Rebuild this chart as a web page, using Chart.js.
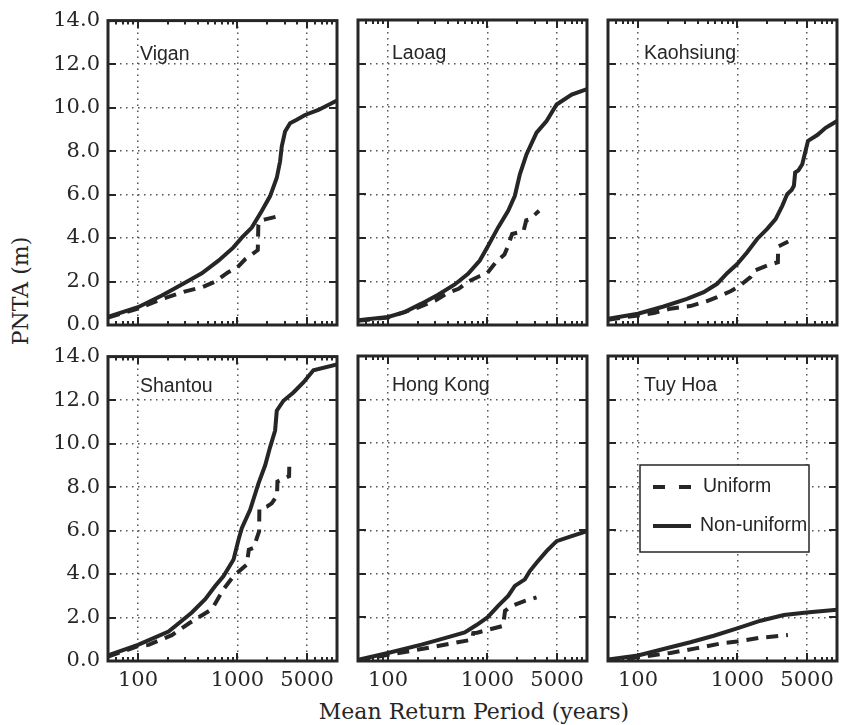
<!DOCTYPE html>
<html>
<head>
<meta charset="utf-8">
<script src="https://cdn.jsdelivr.net/npm/chart.js@4.4.0/dist/chart.umd.min.js"></script>
<style>
    body { margin: 0; background: #fff; }
    #fig { position: relative; width: 841px; height: 725px; overflow: hidden; color: #262626; font-family: "DejaVu Serif", serif; }
    .panel { position: absolute; }
    #ylab { position: absolute; left: 21px; top: 291px; transform: translate(-50%, -50%) rotate(-90deg); font-size: 22px; line-height: 22px; white-space: nowrap; }
    #xlab { position: absolute; left: 474px; top: 701px; transform: translateX(-50%); font-size: 22px; line-height: 22px; white-space: nowrap; }
</style>
</head>
<body>
<div id="fig">
    <div id="ylab">PNTA (m)</div>
    <div id="xlab">Mean Return Period (years)</div>
</div>
<script>
// Return period (years) and PNTA (m)
const viganUniT = [50, 100, 170, 300, 450, 600, 800, 1000, 1200, 1450, 1600, 1620, 1700, 1900, 2450];
const viganUniH = [0.34, 0.75, 1.18, 1.55, 1.75, 2.0, 2.42, 2.65, 3.03, 3.3, 3.45, 4.6, 4.8, 4.86, 4.98];
const viganNonT = [50, 100, 174, 276, 438, 644, 911, 1105, 1392, 1753, 2128, 2483, 2681, 2787, 3008, 3375, 3937, 4773, 6500, 10000];
const viganNonH = [0.38, 0.82, 1.36, 1.86, 2.38, 2.96, 3.57, 4.02, 4.48, 5.24, 5.93, 6.77, 7.53, 8.22, 8.9, 9.28, 9.44, 9.66, 9.89, 10.32];

const laoagUniT = [50, 100, 200, 300, 393, 513, 627, 830, 1000, 1240, 1480, 1600, 1770, 2300, 2450, 2650, 3300];
const laoagUniH = [0.2, 0.34, 0.8, 1.13, 1.46, 1.66, 1.97, 2.24, 2.4, 2.93, 3.23, 3.6, 4.18, 4.3, 4.8, 4.85, 5.24];
const laoagNonT = [50, 100, 147, 217, 319, 469, 638, 837, 1016, 1280, 1614, 1884, 2115, 2470, 3112, 3924, 4950, 7016, 10000];
const laoagNonH = [0.22, 0.37, 0.59, 0.98, 1.39, 1.86, 2.35, 2.96, 3.64, 4.48, 5.24, 5.93, 6.92, 7.84, 8.83, 9.36, 10.12, 10.58, 10.83];

const kaohUniT = [50, 100, 144, 212, 336, 495, 624, 851, 1032, 1351, 1482, 1989, 2547, 2560, 3236];
const kaohUniH = [0.24, 0.44, 0.55, 0.75, 0.87, 1.1, 1.28, 1.55, 1.77, 2.2, 2.5, 2.73, 2.88, 3.6, 3.83];
const kaohNonT = [50, 100, 181, 311, 458, 624, 787, 993, 1251, 1577, 1989, 2415, 2818, 3162, 3500, 3689, 3800, 4100, 4477, 5108, 6340, 7690, 10000];
const kaohNonH = [0.29, 0.52, 0.85, 1.2, 1.51, 1.89, 2.38, 2.8, 3.34, 3.95, 4.41, 4.86, 5.47, 6.01, 6.2, 6.39, 7.0, 7.1, 7.38, 8.45, 8.72, 9.05, 9.36];

const shantouUniT = [50, 100, 128, 219, 335, 552, 725, 913, 1241, 1300, 1449, 1649, 1660, 1968, 2208, 2495, 2520, 3300, 3320];
const shantouUniH = [0.2, 0.68, 0.74, 1.19, 1.77, 2.38, 3.3, 3.91, 4.44, 5.12, 5.2, 5.96, 7.0, 7.1, 7.25, 7.6, 8.25, 8.5, 9.1];
const shantouNonT = [50, 100, 203, 276, 348, 474, 597, 725, 913, 1024, 1105, 1340, 1626, 1898, 2128, 2388, 2483, 2897, 3648, 4592, 5792, 10000];
const shantouNonH = [0.26, 0.74, 1.35, 1.85, 2.23, 2.84, 3.45, 3.91, 4.67, 5.58, 6.11, 6.95, 8.17, 9.0, 9.84, 10.6, 11.51, 11.97, 12.35, 12.81, 13.37, 13.64];

const hkUniT = [50, 100, 217, 408, 701, 720, 787, 1438, 1500, 1745, 2376, 3112];
const hkUniH = [0.02, 0.28, 0.55, 0.78, 0.98, 1.28, 1.3, 1.61, 2.3, 2.53, 2.76, 2.92];
const hkNonT = [50, 100, 217, 372, 591, 775, 1000, 1280, 1614, 1884, 2376, 2666, 3112, 3924, 4950, 7016, 10000];
const hkNonH = [0.05, 0.37, 0.75, 1.05, 1.31, 1.65, 2.0, 2.53, 2.99, 3.45, 3.75, 4.13, 4.51, 5.04, 5.5, 5.73, 5.96];

const tuyUniT = [50, 100, 212, 393, 728, 993, 1706, 3211];
const tuyUniH = [0.04, 0.17, 0.37, 0.59, 0.83, 0.89, 1.07, 1.19];
const tuyNonT = [50, 100, 212, 336, 578, 993, 1706, 2927, 4950, 10000];
const tuyNonH = [0.07, 0.25, 0.63, 0.86, 1.16, 1.5, 1.85, 2.11, 2.23, 2.35];

const xMajor = [100, 1000, 5000];
const yTicks = [0, 2, 4, 6, 8, 10, 12, 14];

const panels = [
    { name: "Vigan", uniT: viganUniT, uniH: viganUniH, nonT: viganNonT, nonH: viganNonH },
    { name: "Laoag", uniT: laoagUniT, uniH: laoagUniH, nonT: laoagNonT, nonH: laoagNonH },
    { name: "Kaohsiung", uniT: kaohUniT, uniH: kaohUniH, nonT: kaohNonT, nonH: kaohNonH },
    { name: "Shantou", uniT: shantouUniT, uniH: shantouUniH, nonT: shantouNonT, nonH: shantouNonH },
    { name: "Hong Kong", uniT: hkUniT, uniH: hkUniH, nonT: hkNonT, nonH: hkNonH },
    { name: "Tuy Hoa", uniT: tuyUniT, uniH: tuyUniH, nonT: tuyNonT, nonH: tuyNonH }
];

const INK = "#262626";
const SANS = '"Liberation Sans", Arial, sans-serif';
const plotLeft = [108, 358, 608];
const plotTop = [20, 356];
const plotW = 229, plotH = 305;
const padL = 100, padT = 20, padR = 10, padB = 60;

// frame, inward ticks, station name and (last panel) legend
const framePlugin = {
    id: "frame",
    afterDraw(chart, args, opts) {
        const { ctx, chartArea: a, scales: { x, y } } = chart;
        ctx.save();
        ctx.setLineDash([]);
        ctx.lineDashOffset = 0;
        ctx.lineCap = "butt";
        ctx.strokeStyle = INK;
        ctx.lineWidth = 2;
        ctx.beginPath();
        for (let d = 10; d <= 1000; d *= 10) {
            for (let m = 1; m < 10; m++) {
                const v = m * d;
                if (v < 50 || v > 10000) continue;
                const px = Math.round(x.getPixelForValue(v));
                const len = xMajor.includes(v) ? 8 : 4;
                ctx.moveTo(px, a.bottom); ctx.lineTo(px, a.bottom - len);
                ctx.moveTo(px, a.top); ctx.lineTo(px, a.top + len);
            }
        }
        yTicks.forEach(v => {
            const py = Math.round(y.getPixelForValue(v));
            ctx.moveTo(a.left, py); ctx.lineTo(a.left + 8, py);
            ctx.moveTo(a.right, py); ctx.lineTo(a.right - 8, py);
        });
        ctx.stroke();

        ctx.lineWidth = 3;
        ctx.strokeRect(a.left, a.top, a.width, a.height);

        ctx.fillStyle = INK;
        ctx.font = "19.5px " + SANS;
        ctx.textBaseline = "alphabetic";
        ctx.fillText(opts.name, a.left + opts.titleDx, a.top + opts.titleDy);

        if (opts.legend) {
            const ds = chart.data.datasets;
            // white legend frame hides the grid behind it
            ctx.fillStyle = "#fff";
            ctx.fillRect(a.left + 32, a.top + 109, 169, 87);
            ctx.fillStyle = INK;
            ctx.lineWidth = 1.5;
            ctx.strokeRect(a.left + 32, a.top + 109, 169, 87);
            const rows = [{ d: ds[0], yOff: 131, tx: 95, dash: [12, 14] }, { d: ds[1], yOff: 170, tx: 92, dash: [] }];
            rows.forEach(r => {
                ctx.beginPath();
                ctx.lineWidth = 4;
                ctx.setLineDash(r.dash);
                ctx.lineDashOffset = 0;
                ctx.moveTo(a.left + 45, a.top + r.yOff);
                ctx.lineTo(a.left + 83, a.top + r.yOff);
                ctx.stroke();
                ctx.setLineDash([]);
                ctx.textBaseline = "middle";
                ctx.fillText(r.d.label, a.left + r.tx, a.top + r.yOff);
            });
        }
        ctx.restore();
    }
};

const fig = document.getElementById("fig");

panels.forEach((p, i) => {
    const col = i % 3, row = Math.floor(i / 3);
    const box = document.createElement("div");
    box.className = "panel";
    box.style.left = (plotLeft[col] - padL) + "px";
    box.style.top = (plotTop[row] - padT) + "px";
    const cv = document.createElement("canvas");
    cv.width = padL + plotW + padR;
    cv.height = padT + plotH + padB;
    box.appendChild(cv);
    fig.appendChild(box);

    new Chart(cv.getContext("2d"), {
        type: "line",
        data: {
            datasets: [{
                label: "Uniform",
                data: p.uniT.map((t, k) => ({ x: t, y: p.uniH[k] })),
                borderColor: INK,
                borderWidth: 4,
                borderDash: [12, 8],
                pointRadius: 0,
                tension: 0
            }, {
                label: "Non-uniform",
                data: p.nonT.map((t, k) => ({ x: t, y: p.nonH[k] })),
                borderColor: INK,
                borderWidth: 4,
                pointRadius: 0,
                tension: 0
            }]
        },
        options: {
            responsive: false,
            animation: false,
            layout: { padding: { left: 0, top: padT, right: padR, bottom: 0 } },
            plugins: {
                legend: { display: false },
                tooltip: { enabled: false },
                frame: {
                    name: p.name,
                    titleDx: 32 + col * 2,
                    titleDy: row === 0 ? 39 : 35,
                    legend: i === 5
                }
            },
            scales: {
                x: {
                    type: "logarithmic",
                    min: 50,
                    max: 10000,
                    afterBuildTicks: s => { s.ticks = xMajor.map(v => ({ value: v })); },
                    afterFit: s => { s.height = padB; },
                    ticks: {
                        display: row === 1,
                        autoSkip: false,
                        maxRotation: 0,
                        padding: 7,
                        color: INK,
                        font: { family: "DejaVu Serif", size: 21 },
                        callback: v => String(v)
                    },
                    grid: { color: "#555", lineWidth: 1.5, drawTicks: false },
                    border: { display: false, dash: [1.5, 4.5] }
                },
                y: {
                    min: 0,
                    max: 14,
                    afterBuildTicks: s => { s.ticks = yTicks.map(v => ({ value: v })); },
                    afterFit: s => { s.width = padL; },
                    ticks: {
                        display: col === 0,
                        padding: 8,
                        color: INK,
                        font: { family: "DejaVu Serif", size: 21 },
                        callback: v => v.toFixed(1)
                    },
                    grid: {
                        color: c => (c.tick.value === 0 || c.tick.value === 14) ? "rgba(0,0,0,0)" : "#555",
                        lineWidth: 1.5,
                        drawTicks: false
                    },
                    border: { display: false, dash: [1.5, 4.5] }
                }
            }
        },
        plugins: [framePlugin]
    });
});
</script>
</body>
</html>
